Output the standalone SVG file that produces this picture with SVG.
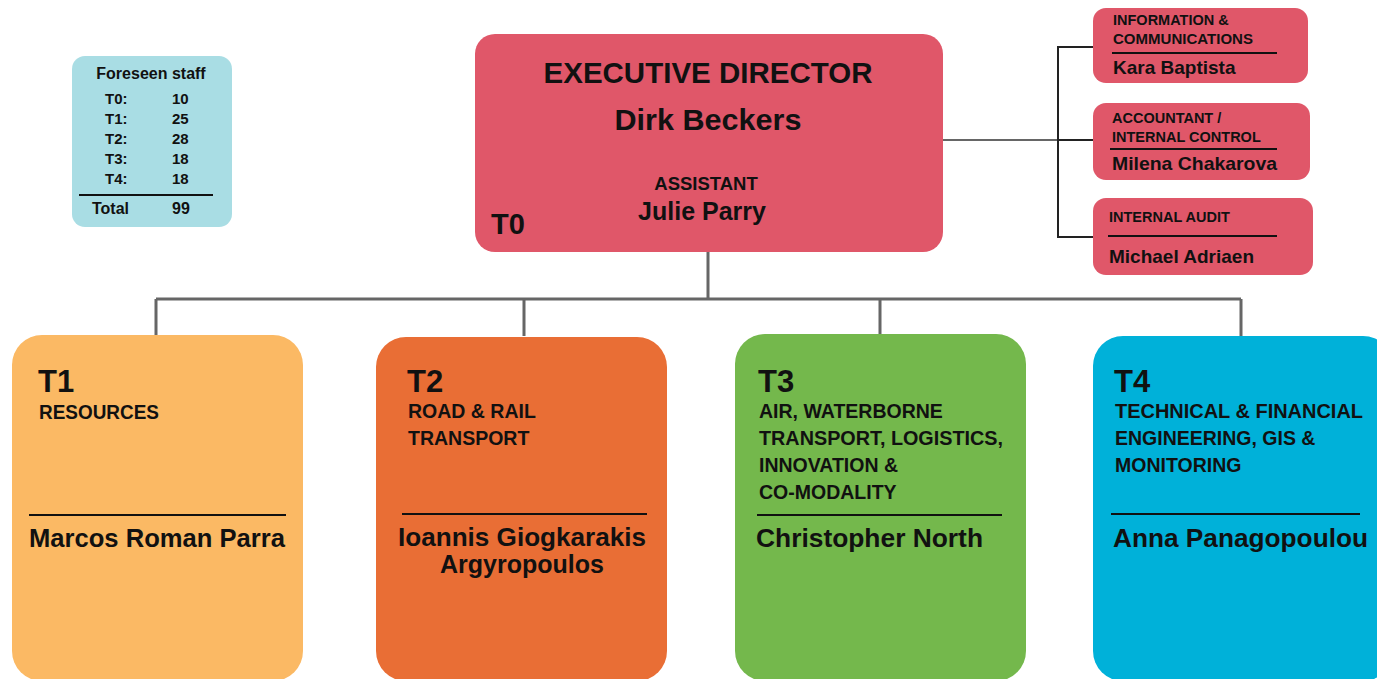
<svg xmlns="http://www.w3.org/2000/svg" width="1377" height="679" viewBox="0 0 1377 679">
<style>
text{font-family:"Liberation Sans",Arial,sans-serif;font-weight:bold;fill:#111}
.c{text-anchor:middle}
.sep{stroke:#111;stroke-width:2}
.conn{fill:none;stroke:#666;stroke-width:3}
.conn2{fill:none;stroke:#222;stroke-width:2}
.tl{font-size:31px}
.dept{font-size:19.5px}
.nm{font-size:25px}
.sm{font-size:14.5px}
.smn{font-size:19px}
.st{font-size:15px}
</style>
<rect width="1377" height="679" fill="#fff"/>
<g id="connectors">
<path class="conn" d="M708 252V299M156 299H1241M156 299V336M524 299V336M880 299V336M1241 299V336"/>
<path class="conn" d="M943 140H1058" style="stroke:#666;stroke-width:2"/>
<path class="conn2" d="M1093 47H1058V237H1093M1058 140H1093"/>
</g>
<g id="staff">
<rect x="72" y="56" width="160" height="171" rx="13" fill="#A9DDE4"/>
<text x="151" y="79" class="c" style="font-size:16px">Foreseen staff</text>
<text x="105" y="104" class="st">T0:</text><text x="172" y="104" class="st">10</text>
<text x="105" y="124" class="st">T1:</text><text x="172" y="124" class="st">25</text>
<text x="105" y="144" class="st">T2:</text><text x="172" y="144" class="st">28</text>
<text x="105" y="164" class="st">T3:</text><text x="172" y="164" class="st">18</text>
<text x="105" y="184" class="st">T4:</text><text x="172" y="184" class="st">18</text>
<line x1="79" y1="195" x2="213" y2="195" class="sep"/>
<text x="92" y="214" style="font-size:16px">Total</text><text x="172" y="214" style="font-size:16px">99</text>
</g>
<g id="t0">
<rect x="475" y="34" width="468" height="218" rx="20" fill="#E05769"/>
<text x="708" y="83" class="c" style="font-size:29.5px">EXECUTIVE DIRECTOR</text>
<text x="708" y="130" class="c" style="font-size:29px" textLength="187" lengthAdjust="spacingAndGlyphs">Dirk Beckers</text>
<text x="706" y="190" class="c" style="font-size:18.5px">ASSISTANT</text>
<text x="702" y="220" class="c" style="font-size:25px">Julie Parry</text>
<text x="491" y="234" style="font-size:29px">T0</text>
</g>
<g id="info">
<rect x="1093" y="8" width="215" height="75" rx="13" fill="#E05769"/>
<text x="1113" y="25" class="sm">INFORMATION &amp;</text>
<text x="1113" y="44" class="sm" textLength="140" lengthAdjust="spacingAndGlyphs">COMMUNICATIONS</text>
<line x1="1112" y1="53" x2="1277" y2="53" class="sep"/>
<text x="1113" y="74" class="smn">Kara Baptista</text>
</g>
<g id="accountant">
<rect x="1093" y="103" width="217" height="77" rx="13" fill="#E05769"/>
<text x="1112" y="123" class="sm">ACCOUNTANT /</text>
<text x="1112" y="142" class="sm">INTERNAL CONTROL</text>
<line x1="1110" y1="149" x2="1277" y2="149" class="sep"/>
<text x="1112" y="170" class="smn" textLength="165" lengthAdjust="spacingAndGlyphs">Milena Chakarova</text>
</g>
<g id="audit">
<rect x="1093" y="198" width="220" height="77" rx="13" fill="#E05769"/>
<text x="1109" y="222" class="sm">INTERNAL AUDIT</text>
<line x1="1108" y1="236" x2="1277" y2="236" class="sep"/>
<text x="1109" y="263" class="smn">Michael Adriaen</text>
</g>
<g id="t1">
<rect x="12" y="335" width="291" height="346" rx="30" fill="#FBB964"/>
<text x="38" y="392" class="tl">T1</text>
<text x="39" y="419" class="dept" textLength="120" lengthAdjust="spacingAndGlyphs">RESOURCES</text>
<line x1="29" y1="515" x2="286" y2="515" class="sep"/>
<text x="157" y="547" class="c nm" textLength="256" lengthAdjust="spacingAndGlyphs">Marcos Roman Parra</text>
</g>
<g id="t2">
<rect x="376" y="337" width="291" height="344" rx="30" fill="#E96E35"/>
<text x="407" y="392" class="tl">T2</text>
<text x="408" y="418" class="dept">ROAD &amp; RAIL</text>
<text x="408" y="445" class="dept">TRANSPORT</text>
<line x1="402" y1="514" x2="647" y2="514" class="sep"/>
<text x="522" y="546" class="c nm" textLength="248" lengthAdjust="spacingAndGlyphs">Ioannis Giogkarakis</text>
<text x="522" y="573" class="c nm">Argyropoulos</text>
</g>
<g id="t3">
<rect x="735" y="334" width="291" height="347" rx="30" fill="#74B84C"/>
<text x="758" y="392" class="tl">T3</text>
<text x="759" y="418" class="dept">AIR, WATERBORNE</text>
<text x="759" y="445" class="dept" textLength="244" lengthAdjust="spacingAndGlyphs">TRANSPORT, LOGISTICS,</text>
<text x="759" y="472" class="dept">INNOVATION &amp;</text>
<text x="759" y="499" class="dept">CO-MODALITY</text>
<line x1="757" y1="515" x2="1002" y2="515" class="sep"/>
<text x="756" y="547" class="nm" textLength="227" lengthAdjust="spacingAndGlyphs">Christopher North</text>
</g>
<g id="t4">
<rect x="1093" y="336" width="300" height="345" rx="30" fill="#00B1D9"/>
<text x="1114" y="392" class="tl">T4</text>
<text x="1115" y="418" class="dept" textLength="248" lengthAdjust="spacingAndGlyphs">TECHNICAL &amp; FINANCIAL</text>
<text x="1115" y="445" class="dept">ENGINEERING, GIS &amp;</text>
<text x="1115" y="472" class="dept">MONITORING</text>
<line x1="1111" y1="514" x2="1360" y2="514" class="sep"/>
<text x="1113" y="547" class="nm" textLength="255" lengthAdjust="spacingAndGlyphs">Anna Panagopoulou</text>
</g>
</svg>
